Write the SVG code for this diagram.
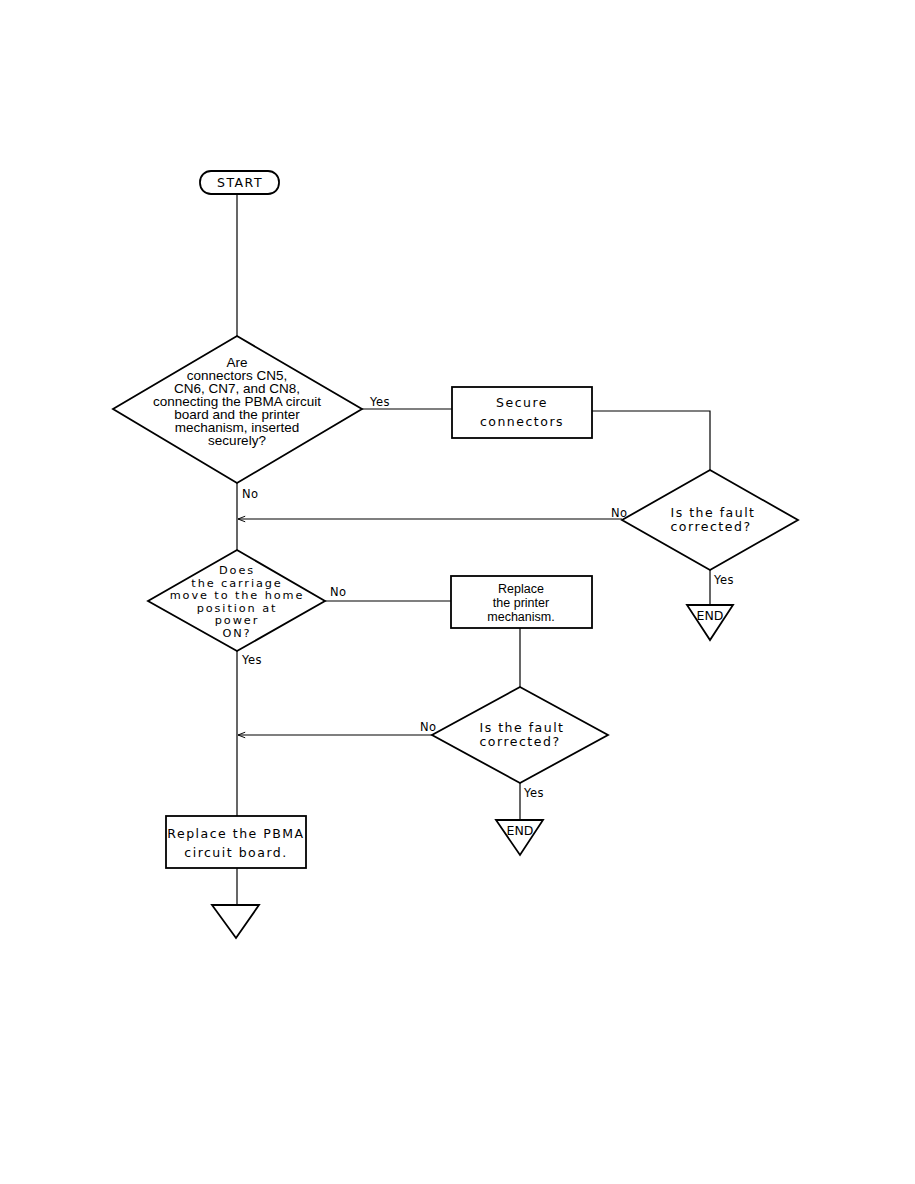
<svg xmlns="http://www.w3.org/2000/svg" width="915" height="1184" viewBox="0 0 915 1184">
<defs>
<style>
.bg{fill:#ffffff}
.sh{fill:#ffffff;stroke:#000;stroke-width:1.8}
.ln{fill:none;stroke:#000;stroke-width:1.2}
.hv{font-family:"Liberation Sans",Arial,sans-serif;font-size:12.5px;fill:#000;text-anchor:middle}
.hv2{font-family:"Liberation Sans",Arial,sans-serif;font-size:13.5px;fill:#000;text-anchor:middle}
.lr{font-family:"DejaVu Sans","Liberation Sans",sans-serif;font-size:12.5px;fill:#000;text-anchor:middle;letter-spacing:1.5px}
.lr3{font-family:"DejaVu Sans","Liberation Sans",sans-serif;font-size:11.3px;fill:#000;text-anchor:middle;letter-spacing:1.9px}
.lb{font-family:"DejaVu Sans","Liberation Sans",sans-serif;font-size:11.5px;fill:#000;letter-spacing:0.5px}
</style>
<marker id="arr" viewBox="0 0 10 10" refX="10" refY="5" markerWidth="10" markerHeight="8" orient="auto" markerUnits="userSpaceOnUse">
<path d="M1,1.5 L10,5 L1,8.5" fill="none" stroke="#000" stroke-width="1.2"/>
</marker>
</defs>
<rect class="bg" x="0" y="0" width="915" height="1184"/>

<g id="connectors">
<line class="ln" x1="237" y1="194" x2="237" y2="336"/>
<line class="ln" x1="362" y1="409" x2="452" y2="409"/>
<polyline class="ln" points="592,411 710,411 710,470"/>
<line class="ln" x1="622" y1="519" x2="238" y2="519" marker-end="url(#arr)"/>
<line class="ln" x1="710" y1="570" x2="710" y2="605"/>
<line class="ln" x1="237" y1="483" x2="237" y2="550"/>
<line class="ln" x1="325" y1="601" x2="451" y2="601"/>
<line class="ln" x1="520" y1="628" x2="520" y2="687"/>
<line class="ln" x1="432" y1="735" x2="238" y2="735" marker-end="url(#arr)"/>
<line class="ln" x1="520" y1="783" x2="520" y2="820"/>
<line class="ln" x1="237" y1="650" x2="237" y2="816"/>
<line class="ln" x1="237" y1="868" x2="237" y2="905"/>
<text class="lb" x="370" y="406">Yes</text>
<text class="lb" x="242" y="498">No</text>
<text class="lb" x="611" y="517">No</text>
<text class="lb" x="714" y="584">Yes</text>
<text class="lb" x="330" y="596">No</text>
<text class="lb" x="242" y="664">Yes</text>
<text class="lb" x="420" y="731">No</text>
<text class="lb" x="524" y="797">Yes</text>
</g>

<g id="start">
<rect class="sh" x="200" y="171" width="79" height="23" rx="11" ry="11"/>
<text class="lr" x="240" y="187">START</text>
</g>

<g id="q1">
<polygon class="sh" points="237,336 362,409 237,483 113,409"/>
<text class="hv2" x="237" y="367">Are</text>
<text class="hv2" x="237" y="380">connectors CN5,</text>
<text class="hv2" x="237" y="393">CN6, CN7, and CN8,</text>
<text class="hv2" x="237" y="406">connecting the PBMA circuit</text>
<text class="hv2" x="237" y="419">board and the printer</text>
<text class="hv2" x="237" y="432">mechanism, inserted</text>
<text class="hv2" x="237" y="445">securely?</text>
</g>

<g id="secure">
<rect class="sh" x="452" y="387" width="140" height="51"/>
<text class="lr" x="522" y="407">Secure</text>
<text class="lr" x="522" y="426">connectors</text>
</g>

<g id="q2">
<polygon class="sh" points="710,470 798,520 710,570 622,520"/>
<text class="lr" x="713" y="517">Is the fault</text>
<text class="lr" x="711" y="531">corrected?</text>
</g>

<g id="end1">
<polygon class="sh" points="687,605 733,605 710,640"/>
<text class="lr" x="710" y="620" style="letter-spacing:0">END</text>
</g>

<g id="q3">
<polygon class="sh" points="237,550 325,601 237,651 148,601"/>
<text class="lr3" x="237" y="574">Does</text>
<text class="lr3" x="237" y="586.5">the carriage</text>
<text class="lr3" x="237" y="599">move to the home</text>
<text class="lr3" x="237" y="611.5">position at</text>
<text class="lr3" x="237" y="624">power</text>
<text class="lr3" x="237" y="636.5">ON?</text>
</g>

<g id="replace-mech">
<rect class="sh" x="451" y="576" width="141" height="52"/>
<text class="hv" x="521" y="593">Replace</text>
<text class="hv" x="521" y="607">the printer</text>
<text class="hv" x="521" y="621">mechanism.</text>
</g>

<g id="q4">
<polygon class="sh" points="520,687 608,735 520,783 432,735"/>
<text class="lr" x="522" y="732">Is the fault</text>
<text class="lr" x="520" y="746">corrected?</text>
</g>

<g id="end2">
<polygon class="sh" points="496,820 543,820 520,855"/>
<text class="lr" x="520" y="835" style="letter-spacing:0">END</text>
</g>

<g id="replace-pbma">
<rect class="sh" x="166" y="816" width="140" height="52"/>
<text class="lr" x="236" y="838">Replace the PBMA</text>
<text class="lr" x="236" y="857">circuit board.</text>
</g>

<g id="end3">
<polygon class="sh" points="212,905 259,905 236,938"/>
</g>
</svg>
